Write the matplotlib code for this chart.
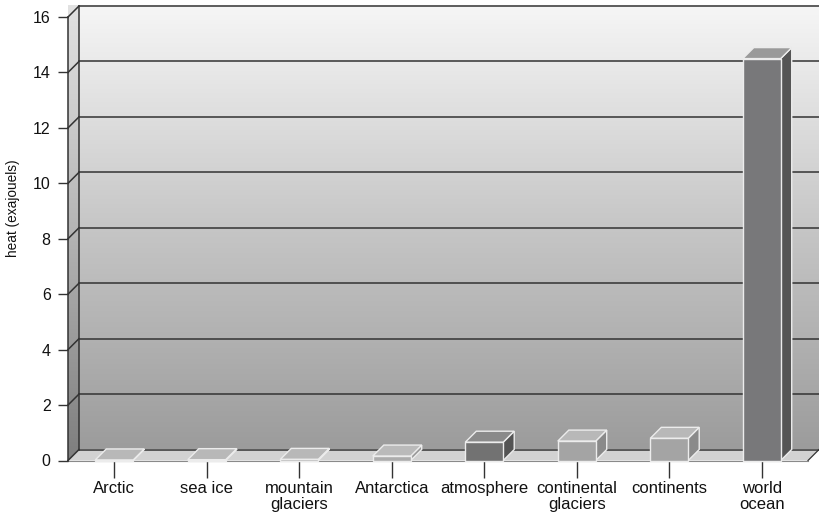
import numpy as np
import matplotlib.pyplot as plt
from matplotlib.patches import Polygon
from matplotlib.colors import LinearSegmentedColormap

plt.rcParams['font.family'] = ['Liberation Sans', 'DejaVu Sans']

# heat uptake per reservoir (exajoules)
categories = ['Arctic', 'sea ice', 'mountain\nglaciers', 'Antarctica', 'atmosphere',
              'continental\nglaciers', 'continents', 'world\nocean']
heat = [0.02, 0.03, 0.04, 0.16, 0.66, 0.70, 0.80, 14.5]

# face colours for each bar: front, top, side
front_colors = ['#b2b2b2', '#b2b2b2', '#b2b2b2', '#acacac', '#727272', '#a4a4a4', '#a4a4a4', '#78787a']
top_colors = ['#b8b8b8', '#b8b8b8', '#b8b8b8', '#bababa', '#8a8a8a', '#b8b8b8', '#b8b8b8', '#9a9a9a']
side_colors = ['#9a9a9a', '#9a9a9a', '#9a9a9a', '#969696', '#545454', '#8a8a8a', '#8a8a8a', '#555555']

yticks = np.arange(0, 17, 2)

W, H = 819, 519
fig = plt.figure(figsize=(W / 100, H / 100), dpi=100)
ax = fig.add_axes([68 / W, (H - 460.5) / H, 740 / W, 443.5 / H])
n = len(categories)

# depth of the 3d box, in data units
dx = 11 / (740 / n)
dy = 11 / (443.5 / 16)
ytop = 16

edge_dark = '#333333'

# back wall with vertical gradient
grad = np.linspace(0, 1, 256).reshape(-1, 1)
wall_cmap = LinearSegmentedColormap.from_list('wall', ['#9c9c9c', '#c6c6c6', '#f6f6f6'])
ax.imshow(grad, cmap=wall_cmap, origin='lower', aspect='auto',
          extent=(dx, n + dx, dy, ytop + dy), clip_on=False, zorder=0)

# left side wall
side_wall = Polygon([(0, 0), (dx, dy), (dx, ytop + dy), (0, ytop)], closed=True,
                    facecolor='none', edgecolor='none', clip_on=False)
ax.add_patch(side_wall)
side_cmap = LinearSegmentedColormap.from_list('side', ['#7e7e7e', '#b4b4b4', '#e2e2e2'])
im = ax.imshow(grad, cmap=side_cmap, origin='lower', aspect='auto',
               extent=(0, dx, 0, ytop + dy), clip_on=False, zorder=0)
im.set_clip_path(side_wall)
ax.set_xlim(0, n)
ax.set_ylim(0, 16)

# floor
floor = Polygon([(0, 0), (n, 0), (n + dx, dy), (dx, dy)],
                closed=True, facecolor='#d2d2d2', edgecolor='none', clip_on=False, zorder=1)
ax.add_patch(floor)

# gridlines on back wall and the matching diagonals on the side wall
for v in yticks:
    ax.plot([dx, n + dx], [v + dy, v + dy], color=edge_dark, lw=1.1,
            clip_on=False, zorder=1.5)
    ax.plot([0, dx], [v, v + dy], color=edge_dark, lw=1.1, clip_on=False, zorder=1.5)
ax.plot([dx, dx], [dy, ytop + dy], color=edge_dark, lw=1.1, clip_on=False, zorder=1.5)
ax.plot([n, n + dx], [0, dy], color=edge_dark, lw=0.9, clip_on=False, zorder=1.5)
ax.plot([0, n], [0, 0], color='#8a8a8a', lw=0.8, clip_on=False, zorder=1.5)

# 3d bars
half = 0.205
for i, v in enumerate(heat):
    x0, x1 = i + 0.5 - half, i + 0.5 + half
    side = Polygon([(x1, 0), (x1 + dx, dy), (x1 + dx, v + dy), (x1, v)], closed=True,
                   facecolor=side_colors[i], edgecolor='#ececec', lw=1, clip_on=False, zorder=3)
    top = Polygon([(x0, v), (x1, v), (x1 + dx, v + dy), (x0 + dx, v + dy)], closed=True,
                  facecolor=top_colors[i], edgecolor='#ececec', lw=1, clip_on=False, zorder=3)
    ax.add_patch(side)
    ax.add_patch(top)
    ax.bar(i + 0.5, v, width=2 * half, color=front_colors[i], edgecolor='#ececec',
           lw=1, zorder=4, clip_on=False)

# axes, ticks and labels
for s in ['top', 'right', 'bottom']:
    ax.spines[s].set_visible(False)
ax.spines['left'].set_color(edge_dark)
ax.spines['left'].set_linewidth(1.1)
ax.spines['left'].set_zorder(5)

ax.set_yticks(yticks)
ax.set_xticks(np.arange(n) + 0.5)
ax.set_xticklabels(categories, linespacing=1.05)
ax.tick_params(axis='y', direction='out', length=7.5, width=1, color=edge_dark,
               labelsize=11.5, pad=5, labelcolor='#111111')
ax.tick_params(axis='x', direction='out', length=12, width=1, color=edge_dark,
               labelsize=12, pad=3, labelcolor='#111111')
ax.set_ylabel('heat (exajouels)', fontsize=9.8, color='#111111')
ax.yaxis.label.set_verticalalignment('center')
ax.yaxis.set_label_coords(-55 / 740, (460.5 - 208) / 443.5)

fig.savefig('out.png', dpi=100)
